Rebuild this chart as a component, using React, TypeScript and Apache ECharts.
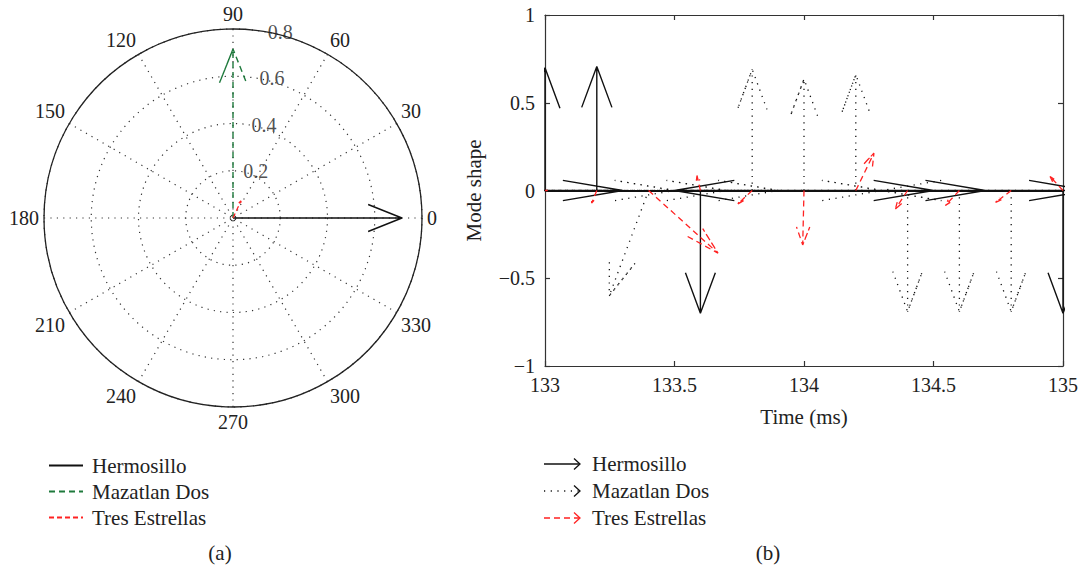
import React, { useEffect, useRef } from 'react';
import * as echarts from 'echarts';

const SERIES_NAMES = ['Hermosillo', 'Mazatlan Dos', 'Tres Estrellas'];

// (a) compass plot
const compassMagnitudes = [0.715, 0.715, 0.08];
const compassAnglesDeg = [0, 90, 65];
const angleTicks = [0, 30, 60, 90, 120, 150, 180, 210, 240, 270, 300, 330, 360];
const radiusTicks = [0.2, 0.4, 0.6, 0.8];

// (b) feather plot (base time, u, v)
const hermosilloTime = [132.6, 133.0, 133.2, 133.6, 133.8, 134.0, 134.2, 134.4, 135.0];
const hermosilloU = [0.7, 0, 0, 0, 0.7, 0.7, -0.7, 0.7, 0];
const hermosilloV = [0, 0.7, 0.707, -0.7, 0, 0, 0, 0, -0.7];

const mazatlanTime = [132.8, 133.0, 133.2, 133.4, 133.6, 133.8, 134.0, 134.2, 134.4, 134.6, 134.8, 135.0];
const mazatlanU = [0.7, 0.7, 0.7, -0.152, 0.7, 0, 0, 0, 0, 0, 0, -0.7];
const mazatlanV = [0, 0, 0, -0.6, 0, 0.69, 0.635, 0.66, -0.69, -0.69, -0.69, 0];

const tresTime = [133.0, 133.2, 133.4, 133.6, 133.8, 134.0, 134.2, 134.4, 134.6, 134.8, 135.0];
const tresU = [0.01, -0.02, 0.268, -0.013, -0.055, -0.005, 0.07, -0.047, -0.054, -0.06, -0.05];
const tresV = [0, -0.072, -0.357, 0.085, -0.076, -0.31, 0.213, -0.105, -0.085, -0.068, 0.08];

const xTicks = [133, 133.5, 134, 134.5, 135];
const yTicks = [-1, -0.5, 0, 0.5, 1];

const FONT = 'Liberation Serif';
const TEXT = '#222';
const BLACK = '#111';
const GREEN = '#1f7a3d';
const RED = '#f22';
const TICK_FS = 20;
const NAME_FS = 21;

// compass arrow like MATLAB compass(): [0 1 .8 1 .8] + i[0 0 .08 0 -.08], times z
function compassArrow(m: number, aDeg: number) {
  const pts: number[][] = [];
  const base = [
    [0, 0],
    [1, 0],
    [0.8, 0.08],
    [1, 0],
    [0.8, -0.08],
  ];
  for (const [bx, by] of base) {
    const r = m * Math.hypot(bx, by);
    let ang = aDeg + (Math.atan2(by, bx) * 180) / Math.PI;
    ang = (ang + 360) % 360;
    pts.push([r, ang]);
  }
  return pts;
}

// quiver/feather arrow (MATLAB head: alpha=.33, beta=.25)
function quiverData(t: number[], u: number[], v: number[]) {
  const a = 0.33;
  const b = 0.25;
  const out: any[] = [];
  t.forEach((x, i) => {
    const U = u[i];
    const V = v[i];
    const tip = [x + U, V];
    const b1 = [x + U - a * (U + b * V), V - a * (V - b * U)];
    const b2 = [x + U - a * (U - b * V), V - a * (V + b * U)];
    out.push([x, 0], tip, b1, tip, b2, ['-', '-']);
  });
  return out;
}

const polarStyles = [
  { color: BLACK, width: 1.4, type: 'solid' as any },
  { color: GREEN, width: 1.4, type: [6, 4] as any },
  { color: RED, width: 1.3, type: [5, 3] as any },
];

const featherStyles = [
  { color: BLACK, width: 1.4, type: 'solid' as any },
  { color: BLACK, width: 1.3, type: [1.2, 5.5] as any },
  { color: RED, width: 1.3, type: [6, 4] as any },
];

const legendBRows = [464, 491, 518];

export default function App() {
  const ref = useRef<HTMLDivElement>(null);

  useEffect(() => {
    const chart = echarts.init(ref.current!, null, { renderer: 'svg' });

    const compassSeries = SERIES_NAMES.map((name, i) => ({
      type: 'line',
      name,
      coordinateSystem: 'polar',
      polarIndex: 0,
      symbol: 'none',
      silent: true,
      color: polarStyles[i].color,
      lineStyle: polarStyles[i],
      data: compassArrow(compassMagnitudes[i], compassAnglesDeg[i]),
      z: 5,
    }));

    const featherData = [
      quiverData(hermosilloTime, hermosilloU, hermosilloV),
      quiverData(mazatlanTime, mazatlanU, mazatlanV),
      quiverData(tresTime, tresU, tresV),
    ];

    const featherSeries = SERIES_NAMES.map((name, i) => ({
      type: 'line',
      name,
      xAxisIndex: 0,
      yAxisIndex: 0,
      symbol: 'none',
      silent: true,
      clip: true,
      color: featherStyles[i].color,
      lineStyle: featherStyles[i],
      data: featherData[i],
      z: 5 + i,
      ...(i === 0
        ? {
            markLine: {
              silent: true,
              symbol: 'none',
              label: { show: false },
              lineStyle: { color: BLACK, width: 1.8, type: 'solid' },
              data: [{ yAxis: 0 }],
            },
          }
        : {}),
    }));

    const axisLineStyle = { color: '#333', width: 1.2 };

    const xBase = {
      type: 'value',
      min: xTicks[0],
      max: xTicks[xTicks.length - 1],
      interval: xTicks[1] - xTicks[0],
      splitLine: { show: false },
      axisLine: { show: true, onZero: false, lineStyle: axisLineStyle },
      axisTick: { show: true, inside: true, length: 5, lineStyle: axisLineStyle },
    };
    const yBase = {
      type: 'value',
      min: yTicks[0],
      max: yTicks[yTicks.length - 1],
      interval: yTicks[1] - yTicks[0],
      splitLine: { show: false },
      axisLine: { show: true, onZero: false, lineStyle: axisLineStyle },
      axisTick: { show: true, inside: true, length: 5, lineStyle: axisLineStyle },
    };

    const graphic: any[] = [];
    SERIES_NAMES.forEach((name, i) => {
      const y = legendBRows[i];
      const st = featherStyles[i];
      graphic.push({
        type: 'line',
        shape: { x1: 544, y1: y, x2: 579, y2: y },
        style: {
          stroke: st.color,
          lineWidth: 1.3,
          lineDash: Array.isArray(st.type) ? st.type : null,
        },
      });
      graphic.push({
        type: 'polyline',
        shape: { points: [[574, y - 5.5], [580, y], [574, y + 5.5]] },
        style: { stroke: st.color, lineWidth: 1.3, fill: null },
      });
      graphic.push({
        type: 'text',
        x: 592,
        y,
        style: {
          text: name,
          fontSize: NAME_FS,
          fontFamily: FONT,
          fill: TEXT,
          verticalAlign: 'middle',
          align: 'left',
        },
      });
    });
    graphic.push({
      type: 'text',
      x: 220,
      y: 553,
      style: { text: '(a)', fontSize: NAME_FS, fontFamily: FONT, fill: TEXT, align: 'center', verticalAlign: 'middle' },
    });
    graphic.push({
      type: 'text',
      x: 768,
      y: 553,
      style: { text: '(b)', fontSize: NAME_FS, fontFamily: FONT, fill: TEXT, align: 'center', verticalAlign: 'middle' },
    });

    const dotted = { type: [1.2, 5.2] as any, color: '#333', width: 1.2 };

    const option: any = {
      animation: false,
      backgroundColor: '#fff',
      textStyle: { fontFamily: FONT },
      polar: [{ center: [233, 218], radius: 189 }],
      angleAxis: {
        type: 'value',
        polarIndex: 0,
        min: angleTicks[0],
        max: angleTicks[angleTicks.length - 1],
        interval: angleTicks[1] - angleTicks[0],
        startAngle: 0,
        clockwise: false,
        axisLine: { show: true, lineStyle: { color: '#222', width: 1.3 } },
        axisTick: { show: false },
        axisLabel: {
          show: true,
          margin: 5,
          fontSize: TICK_FS,
          fontFamily: FONT,
          color: TEXT,
          formatter: (v: number) => (v === 360 ? '' : String(v)),
        },
        splitLine: { show: true, lineStyle: dotted },
      },
      radiusAxis: {
        type: 'value',
        polarIndex: 0,
        min: 0,
        max: radiusTicks[radiusTicks.length - 1],
        interval: radiusTicks[1] - radiusTicks[0],
        axisLine: { show: false },
        axisTick: { show: false },
        axisLabel: { show: false },
        splitLine: { show: true, lineStyle: dotted },
      },
      grid: { left: 545, top: 15, right: 17, bottom: 203, containLabel: false },
      xAxis: [
        {
          ...xBase,
          position: 'bottom',
          name: 'Time (ms)',
          nameLocation: 'middle',
          nameGap: 40,
          nameTextStyle: { fontSize: NAME_FS, fontFamily: FONT, color: TEXT },
          axisLabel: {
            show: true,
            margin: 9,
            fontSize: TICK_FS,
            fontFamily: FONT,
            color: TEXT,
            formatter: (v: number) => String(v),
          },
        },
        { ...xBase, position: 'top', axisLabel: { show: false } },
      ],
      yAxis: [
        {
          ...yBase,
          position: 'left',
          name: 'Mode shape',
          nameLocation: 'middle',
          nameGap: 61,
          nameTextStyle: { fontSize: NAME_FS, fontFamily: FONT, color: TEXT },
          axisLabel: {
            show: true,
            margin: 10,
            fontSize: TICK_FS,
            fontFamily: FONT,
            color: TEXT,
            formatter: (v: number) => (v < 0 ? '\u2212' + String(Math.abs(v)) : String(v)),
          },
        },
        { ...yBase, position: 'right', axisLabel: { show: false } },
      ],
      legend: {
        data: SERIES_NAMES,
        orient: 'vertical',
        left: 43,
        top: 450,
        itemWidth: 34,
        itemHeight: 14,
        itemGap: 5,
        selectedMode: false,
        itemStyle: { opacity: 0 },
        textStyle: { fontSize: NAME_FS, fontFamily: FONT, color: TEXT, padding: [0, 0, 0, 4] },
      },
      graphic,
      series: [
        ...compassSeries,
        {
          type: 'scatter',
          name: 'radius labels',
          coordinateSystem: 'polar',
          polarIndex: 0,
          symbolSize: 0.01,
          silent: true,
          data: radiusTicks.map((r) => [r, 80]),
          label: {
            show: true,
            position: 'right',
            distance: 2,
            fontSize: TICK_FS,
            fontFamily: FONT,
            color: TEXT,
            formatter: (p: any) => String(p.value[0]),
          },
          z: 4,
        },
        ...featherSeries,
      ],
    };

    chart.setOption(option);
    return () => chart.dispose();
  }, []);

  return (
    <div
      ref={ref}
      style={{ position: 'fixed', left: 0, top: 0, width: 1081, height: 569, background: '#fff' }}
    />
  );
}
